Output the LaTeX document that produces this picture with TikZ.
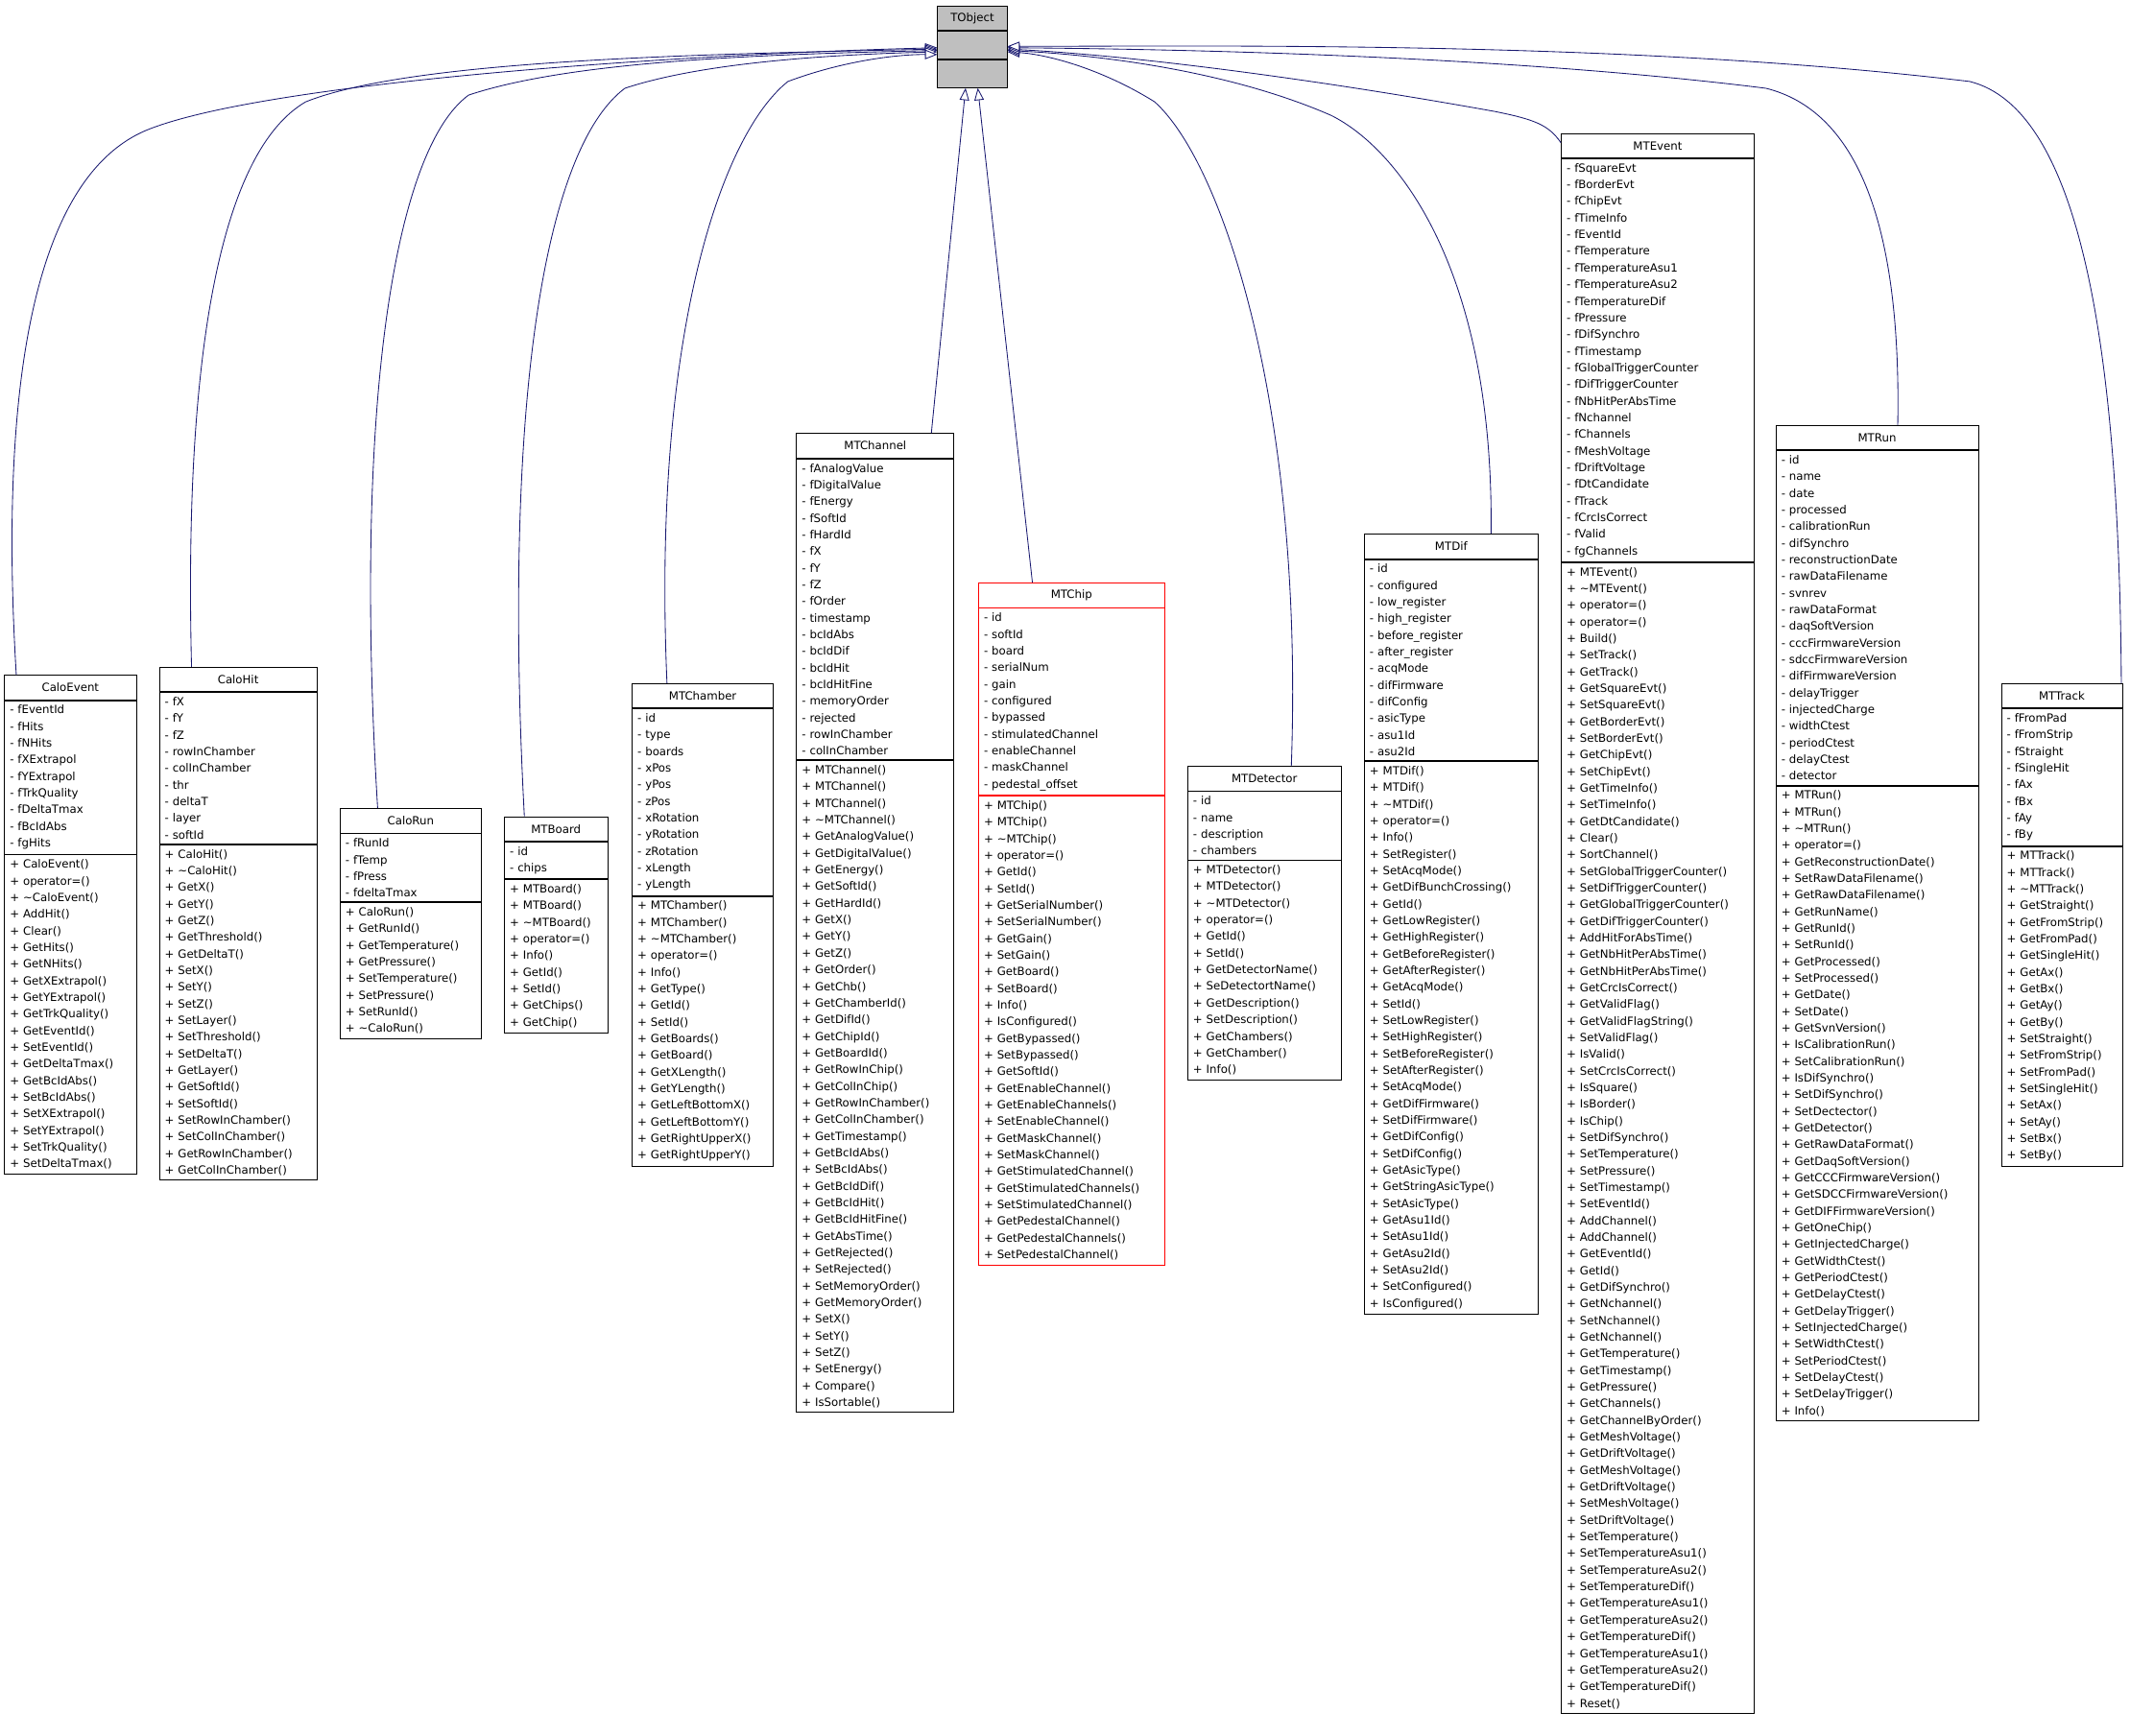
\documentclass[tikz,border=0pt]{standalone}
\usepackage{fontspec}
\setmainfont{DejaVu Sans}
\usetikzlibrary{arrows.meta}
\definecolor{edgeblue}{HTML}{191970}
\definecolor{boxgray}{HTML}{BFBFBF}
\newcommand{\dtor}{\textasciitilde}

\tikzset{
 classbox/.style={draw,line width=0.6pt,inner xsep=4pt,font=\fontsize{8.3}{12.25}\selectfont},
 ctitle/.style={classbox,align=center,minimum height=18pt,inner ysep=0pt,anchor=north west},
 cpart/.style={classbox,align=left,inner ysep=3.5pt,anchor=north west},
 redclass/.style={draw=red},
 inh/.style={draw=edgeblue,line width=0.6pt,-{Triangle[open,length=9pt,width=7pt,fill=white]}},
}

% id, title, x, y, width, attributes, methods
\newcommand{\umlclass}[8][]{%
 \node[ctitle,#1,text width={\dimexpr#6pt-8pt\relax}] (#2) at (#4,#5) {#3};
 \node[cpart,#1,text width={\dimexpr#6pt-8pt\relax}] (#2A) at (#2.south west) {#7};
 \node[cpart,#1,text width={\dimexpr#6pt-8pt\relax}] (#2M) at (#2A.south west) {#8};
}

\begin{document}
\begin{tikzpicture}[x=1pt,y=-1pt]
\useasboundingbox (0,0) rectangle (1568,1277.6);

% base class
\node[ctitle,fill=boxgray,text width=43pt] (tobject) at (690,4) {TObject};
\node[ctitle,fill=boxgray,text width=43pt,minimum height=20.5pt] (tobjectA) at (tobject.south west) {};
\node[ctitle,fill=boxgray,text width=43pt,minimum height=20.5pt] (tobjectM) at (tobjectA.south west) {};

\umlclass{caloevent}{CaloEvent}{3}{497}{97}
{- fEventId\\- fHits\\- fNHits\\- fXExtrapol\\- fYExtrapol\\- fTrkQuality\\- fDeltaTmax\\- fBcIdAbs\\- fgHits}
{+ CaloEvent()\\+ operator=()\\+ \dtor CaloEvent()\\+ AddHit()\\+ Clear()\\+ GetHits()\\+ GetNHits()\\+ GetXExtrapol()\\+ GetYExtrapol()\\+ GetTrkQuality()\\+ GetEventId()\\+ SetEventId()\\+ GetDeltaTmax()\\+ GetBcIdAbs()\\+ SetBcIdAbs()\\+ SetXExtrapol()\\+ SetYExtrapol()\\+ SetTrkQuality()\\+ SetDeltaTmax()}

\umlclass{calohit}{CaloHit}{117}{491}{116}
{- fX\\- fY\\- fZ\\- rowInChamber\\- colInChamber\\- thr\\- deltaT\\- layer\\- softId}
{+ CaloHit()\\+ \dtor CaloHit()\\+ GetX()\\+ GetY()\\+ GetZ()\\+ GetThreshold()\\+ GetDeltaT()\\+ SetX()\\+ SetY()\\+ SetZ()\\+ SetLayer()\\+ SetThreshold()\\+ SetDeltaT()\\+ GetLayer()\\+ GetSoftId()\\+ SetSoftId()\\+ SetRowInChamber()\\+ SetColInChamber()\\+ GetRowInChamber()\\+ GetColInChamber()}

\umlclass{calorun}{CaloRun}{250}{595}{104}
{- fRunId\\- fTemp\\- fPress\\- fdeltaTmax}
{+ CaloRun()\\+ GetRunId()\\+ GetTemperature()\\+ GetPressure()\\+ SetTemperature()\\+ SetPressure()\\+ SetRunId()\\+ \dtor CaloRun()}

\umlclass{mtboard}{MTBoard}{371}{601}{76}
{- id\\- chips}
{+ MTBoard()\\+ MTBoard()\\+ \dtor MTBoard()\\+ operator=()\\+ Info()\\+ GetId()\\+ SetId()\\+ GetChips()\\+ GetChip()}

\umlclass{mtchamber}{MTChamber}{465}{503}{104}
{- id\\- type\\- boards\\- xPos\\- yPos\\- zPos\\- xRotation\\- yRotation\\- zRotation\\- xLength\\- yLength}
{+ MTChamber()\\+ MTChamber()\\+ \dtor MTChamber()\\+ operator=()\\+ Info()\\+ GetType()\\+ GetId()\\+ SetId()\\+ GetBoards()\\+ GetBoard()\\+ GetXLength()\\+ GetYLength()\\+ GetLeftBottomX()\\+ GetLeftBottomY()\\+ GetRightUpperX()\\+ GetRightUpperY()}

\umlclass{mtchannel}{MTChannel}{586}{319}{116}
{- fAnalogValue\\- fDigitalValue\\- fEnergy\\- fSoftId\\- fHardId\\- fX\\- fY\\- fZ\\- fOrder\\- timestamp\\- bcIdAbs\\- bcIdDif\\- bcIdHit\\- bcIdHitFine\\- memoryOrder\\- rejected\\- rowInChamber\\- colInChamber}
{+ MTChannel()\\+ MTChannel()\\+ MTChannel()\\+ \dtor MTChannel()\\+ GetAnalogValue()\\+ GetDigitalValue()\\+ GetEnergy()\\+ GetSoftId()\\+ GetHardId()\\+ GetX()\\+ GetY()\\+ GetZ()\\+ GetOrder()\\+ GetChb()\\+ GetChamberId()\\+ GetDifId()\\+ GetChipId()\\+ GetBoardId()\\+ GetRowInChip()\\+ GetColInChip()\\+ GetRowInChamber()\\+ GetColInChamber()\\+ GetTimestamp()\\+ GetBcIdAbs()\\+ SetBcIdAbs()\\+ GetBcIdDif()\\+ GetBcIdHit()\\+ GetBcIdHitFine()\\+ GetAbsTime()\\+ GetRejected()\\+ SetRejected()\\+ SetMemoryOrder()\\+ GetMemoryOrder()\\+ SetX()\\+ SetY()\\+ SetZ()\\+ SetEnergy()\\+ Compare()\\+ IsSortable()}

\umlclass[redclass]{mtchip}{MTChip}{720}{429}{137}
{- id\\- softId\\- board\\- serialNum\\- gain\\- configured\\- bypassed\\- stimulatedChannel\\- enableChannel\\- maskChannel\\- pedestal\_offset}
{+ MTChip()\\+ MTChip()\\+ \dtor MTChip()\\+ operator=()\\+ GetId()\\+ SetId()\\+ GetSerialNumber()\\+ SetSerialNumber()\\+ GetGain()\\+ SetGain()\\+ GetBoard()\\+ SetBoard()\\+ Info()\\+ IsConfigured()\\+ GetBypassed()\\+ SetBypassed()\\+ GetSoftId()\\+ GetEnableChannel()\\+ GetEnableChannels()\\+ SetEnableChannel()\\+ GetMaskChannel()\\+ SetMaskChannel()\\+ GetStimulatedChannel()\\+ GetStimulatedChannels()\\+ SetStimulatedChannel()\\+ GetPedestalChannel()\\+ GetPedestalChannels()\\+ SetPedestalChannel()}

\umlclass{mtdetector}{MTDetector}{874}{564}{113}
{- id\\- name\\- description\\- chambers}
{+ MTDetector()\\+ MTDetector()\\+ \dtor MTDetector()\\+ operator=()\\+ GetId()\\+ SetId()\\+ GetDetectorName()\\+ SeDetectortName()\\+ GetDescription()\\+ SetDescription()\\+ GetChambers()\\+ GetChamber()\\+ Info()}

\umlclass{mtdif}{MTDif}{1004}{393}{128}
{- id\\- configured\\- low\_register\\- high\_register\\- before\_register\\- after\_register\\- acqMode\\- difFirmware\\- difConfig\\- asicType\\- asu1Id\\- asu2Id}
{+ MTDif()\\+ MTDif()\\+ \dtor MTDif()\\+ operator=()\\+ Info()\\+ SetRegister()\\+ SetAcqMode()\\+ GetDifBunchCrossing()\\+ GetId()\\+ GetLowRegister()\\+ GetHighRegister()\\+ GetBeforeRegister()\\+ GetAfterRegister()\\+ GetAcqMode()\\+ SetId()\\+ SetLowRegister()\\+ SetHighRegister()\\+ SetBeforeRegister()\\+ SetAfterRegister()\\+ SetAcqMode()\\+ GetDifFirmware()\\+ SetDifFirmware()\\+ GetDifConfig()\\+ SetDifConfig()\\+ GetAsicType()\\+ GetStringAsicType()\\+ SetAsicType()\\+ GetAsu1Id()\\+ SetAsu1Id()\\+ GetAsu2Id()\\+ SetAsu2Id()\\+ SetConfigured()\\+ IsConfigured()}

\umlclass{mtevent}{MTEvent}{1149}{98}{142}
{- fSquareEvt\\- fBorderEvt\\- fChipEvt\\- fTimeInfo\\- fEventId\\- fTemperature\\- fTemperatureAsu1\\- fTemperatureAsu2\\- fTemperatureDif\\- fPressure\\- fDifSynchro\\- fTimestamp\\- fGlobalTriggerCounter\\- fDifTriggerCounter\\- fNbHitPerAbsTime\\- fNchannel\\- fChannels\\- fMeshVoltage\\- fDriftVoltage\\- fDtCandidate\\- fTrack\\- fCrcIsCorrect\\- fValid\\- fgChannels}
{+ MTEvent()\\+ \dtor MTEvent()\\+ operator=()\\+ operator=()\\+ Build()\\+ SetTrack()\\+ GetTrack()\\+ GetSquareEvt()\\+ SetSquareEvt()\\+ GetBorderEvt()\\+ SetBorderEvt()\\+ GetChipEvt()\\+ SetChipEvt()\\+ GetTimeInfo()\\+ SetTimeInfo()\\+ GetDtCandidate()\\+ Clear()\\+ SortChannel()\\+ SetGlobalTriggerCounter()\\+ SetDifTriggerCounter()\\+ GetGlobalTriggerCounter()\\+ GetDifTriggerCounter()\\+ AddHitForAbsTime()\\+ GetNbHitPerAbsTime()\\+ GetNbHitPerAbsTime()\\+ GetCrcIsCorrect()\\+ GetValidFlag()\\+ GetValidFlagString()\\+ SetValidFlag()\\+ IsValid()\\+ SetCrcIsCorrect()\\+ IsSquare()\\+ IsBorder()\\+ IsChip()\\+ SetDifSynchro()\\+ SetTemperature()\\+ SetPressure()\\+ SetTimestamp()\\+ SetEventId()\\+ AddChannel()\\+ AddChannel()\\+ GetEventId()\\+ GetId()\\+ GetDifSynchro()\\+ GetNchannel()\\+ SetNchannel()\\+ GetNchannel()\\+ GetTemperature()\\+ GetTimestamp()\\+ GetPressure()\\+ GetChannels()\\+ GetChannelByOrder()\\+ GetMeshVoltage()\\+ GetDriftVoltage()\\+ GetMeshVoltage()\\+ GetDriftVoltage()\\+ SetMeshVoltage()\\+ SetDriftVoltage()\\+ SetTemperature()\\+ SetTemperatureAsu1()\\+ SetTemperatureAsu2()\\+ SetTemperatureDif()\\+ GetTemperatureAsu1()\\+ GetTemperatureAsu2()\\+ GetTemperatureDif()\\+ GetTemperatureAsu1()\\+ GetTemperatureAsu2()\\+ GetTemperatureDif()\\+ Reset()}

\umlclass{mtrun}{MTRun}{1307}{313}{149}
{- id\\- name\\- date\\- processed\\- calibrationRun\\- difSynchro\\- reconstructionDate\\- rawDataFilename\\- svnrev\\- rawDataFormat\\- daqSoftVersion\\- cccFirmwareVersion\\- sdccFirmwareVersion\\- difFirmwareVersion\\- delayTrigger\\- injectedCharge\\- widthCtest\\- periodCtest\\- delayCtest\\- detector}
{+ MTRun()\\+ MTRun()\\+ \dtor MTRun()\\+ operator=()\\+ GetReconstructionDate()\\+ SetRawDataFilename()\\+ GetRawDataFilename()\\+ GetRunName()\\+ GetRunId()\\+ SetRunId()\\+ GetProcessed()\\+ SetProcessed()\\+ GetDate()\\+ SetDate()\\+ GetSvnVersion()\\+ IsCalibrationRun()\\+ SetCalibrationRun()\\+ IsDifSynchro()\\+ SetDifSynchro()\\+ SetDectector()\\+ GetDetector()\\+ GetRawDataFormat()\\+ GetDaqSoftVersion()\\+ GetCCCFirmwareVersion()\\+ GetSDCCFirmwareVersion()\\+ GetDIFFirmwareVersion()\\+ GetOneChip()\\+ GetInjectedCharge()\\+ GetWidthCtest()\\+ GetPeriodCtest()\\+ GetDelayCtest()\\+ GetDelayTrigger()\\+ SetInjectedCharge()\\+ SetWidthCtest()\\+ SetPeriodCtest()\\+ SetDelayCtest()\\+ SetDelayTrigger()\\+ Info()}

\umlclass{mttrack}{MTTrack}{1473}{503}{89}
{- fFromPad\\- fFromStrip\\- fStraight\\- fSingleHit\\- fAx\\- fBx\\- fAy\\- fBy}
{+ MTTrack()\\+ MTTrack()\\+ \dtor MTTrack()\\+ GetStraight()\\+ GetFromStrip()\\+ GetFromPad()\\+ GetSingleHit()\\+ GetAx()\\+ GetBx()\\+ GetAy()\\+ GetBy()\\+ SetStraight()\\+ SetFromStrip()\\+ SetFromPad()\\+ SetSingleHit()\\+ SetAx()\\+ SetAy()\\+ SetBx()\\+ SetBy()}

% inheritance edges
\draw[inh] ([xshift=9pt]caloevent.north west) .. controls (0,300) and (20,130) .. (110,95) .. controls (200,60) and (500,40) .. ([yshift=-2pt]tobjectA.west);
\draw[inh] ([xshift=24pt]calohit.north west) .. controls (135,250) and (165,110) .. (225,75) .. controls (300,45) and (500,40) .. ([yshift=-3pt]tobjectA.west);
\draw[inh] ([xshift=28pt]calorun.north west) .. controls (260,300) and (290,110) .. (345,70) .. controls (420,45) and (560,40) .. ([yshift=-4pt]tobjectA.west);
\draw[inh] ([xshift=15pt]mtboard.north west) .. controls (370,300) and (400,110) .. (460,65) .. controls (520,45) and (620,40) .. ([yshift=-5pt]tobjectA.west);
\draw[inh] ([xshift=26pt]mtchamber.north west) .. controls (480,250) and (530,100) .. (580,60) .. controls (620,45) and (660,40) .. ([yshift=-7pt]tobjectA.west);
\draw[inh] ([xshift=-17pt]mtchannel.north east) -- ([xshift=-5pt]tobjectM.south);
\draw[inh] ([xshift=40pt]mtchip.north west) -- ([xshift=4pt]tobjectM.south);
\draw[inh] ([xshift=-37pt]mtdetector.north east) .. controls (960,300) and (900,120) .. (850,75) .. controls (810,50) and (770,40) .. ([yshift=-5pt]tobjectA.east);
\draw[inh] ([xshift=-35pt]mtdif.north east) .. controls (1100,200) and (1030,110) .. (980,85) .. controls (900,50) and (800,40) .. ([yshift=-4pt]tobjectA.east);
\draw[inh] ([yshift=-7pt]mtevent.north west) .. controls (1140,92) and (1130,88) .. (1100,82) .. controls (950,55) and (820,40) .. ([yshift=-3pt]tobjectA.east);
\draw[inh] ([xshift=90pt]mtrun.north west) .. controls (1400,150) and (1360,80) .. (1300,65) .. controls (1100,40) and (850,36) .. ([yshift=-2pt]tobjectA.east);
\draw[inh] ([xshift=-1pt]mttrack.north east) .. controls (1560,250) and (1530,80) .. (1450,60) .. controls (1200,30) and (900,34) .. ([yshift=-1pt]tobjectA.east);
\end{tikzpicture}
\end{document}
